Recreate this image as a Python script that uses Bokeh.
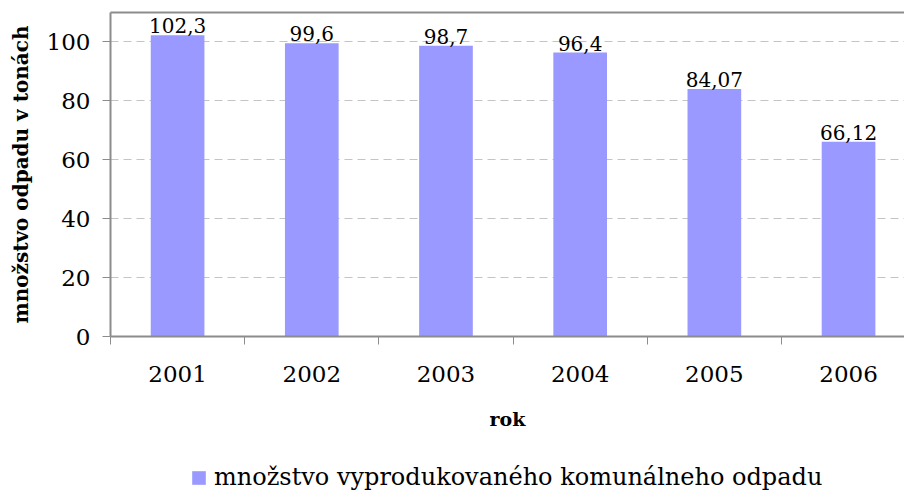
from bokeh.plotting import figure
from bokeh.layouts import column
from bokeh.models import (ColumnDataSource, Range1d, FixedTicker, LinearAxis,
                          LabelSet, Legend, LegendItem)
from bokeh.core.properties import value
from bokeh.embed import file_html
from bokeh.resources import INLINE

years = ["2001", "2002", "2003", "2004", "2005", "2006"]
values = [102.3, 99.6, 98.7, 96.4, 84.07, 66.12]
value_labels = ["102,3", "99,6", "98,7", "96,4", "84,07", "66,12"]
y_ticks = [0, 20, 40, 60, 80, 100]
series_name = "množstvo vyprodukovaného komunálneho odpadu"

centers = [i + 0.5 for i in range(len(years))]
bounds = [i for i in range(len(years) + 1)]

src = ColumnDataSource(dict(x=centers, top=values, lab=value_labels))

FONT = "DejaVu Serif"
GRAY = "#8c8c8c"
BAR = "#9999ff"

p = figure(width=904, height=450, output_backend="svg", toolbar_location=None,
           x_range=Range1d(0, 5.917), y_range=Range1d(0, 110),
           min_border_left=110, min_border_right=0, min_border_top=12,
           min_border_bottom=114)
p.outline_line_color = None
p.background_fill_color = "white"
p.border_fill_color = "white"

r = p.vbar(x="x", top="top", width=0.4, source=src, fill_color=BAR,
           line_color=None)

# x axis
xa = p.xaxis[0]
xa.ticker = FixedTicker(ticks=centers, minor_ticks=bounds)
xa.major_label_overrides = {c: y for c, y in zip(centers, years)}
xa.major_tick_line_color = None
xa.major_tick_out = 0
xa.major_tick_in = 0
xa.minor_tick_line_color = GRAY
xa.minor_tick_out = 8
xa.minor_tick_in = 0
xa.minor_tick_line_width = 1
xa.axis_line_color = GRAY
xa.axis_line_width = 2
xa.major_label_text_font = FONT
xa.major_label_text_font_size = "23px"
xa.major_label_text_color = "black"
xa.major_label_standoff = 21
xa.axis_label = "rok"
xa.axis_label_text_font = FONT
xa.axis_label_text_font_style = "bold"
xa.axis_label_text_font_size = "19px"
xa.axis_label_text_color = "black"
xa.axis_label_standoff = 23

# y axis
ya = p.yaxis[0]
ya.ticker = FixedTicker(ticks=y_ticks)
ya.minor_tick_line_color = None
ya.major_tick_line_color = GRAY
ya.major_tick_out = 8
ya.major_tick_in = 0
ya.axis_line_color = GRAY
ya.axis_line_width = 2
ya.major_label_text_font = FONT
ya.major_label_text_font_size = "23px"
ya.major_label_text_color = "black"
ya.major_label_standoff = 12
ya.axis_label = "množstvo odpadu v tonách"
ya.axis_label_text_font = FONT
ya.axis_label_text_font_style = "bold"
ya.axis_label_text_font_size = "20px"
ya.axis_label_text_color = "black"
ya.axis_label_standoff = 11

# top border via an empty axis
top_axis = LinearAxis(ticker=FixedTicker(ticks=[]), axis_line_color=GRAY,
                      axis_line_width=2, major_tick_line_color=None,
                      minor_tick_line_color=None, major_label_standoff=0,
                      major_tick_out=0, major_tick_in=0)
p.add_layout(top_axis, "above")

p.xgrid.grid_line_color = None
p.ygrid.ticker = FixedTicker(ticks=y_ticks)
p.ygrid.grid_line_color = "#c4c4c4"
p.ygrid.grid_line_dash = "8 5"
p.ygrid.grid_line_width = 1

labels = LabelSet(x="x", y="top", text="lab", source=src, text_align="center",
                  text_baseline="alphabetic", y_offset=2,
                  text_font=value(FONT), text_font_size=value("20px"),
                  text_color=value("black"))
p.add_layout(labels)

# legend strip below the chart
p2 = figure(width=904, height=41, output_backend="svg", toolbar_location=None,
            x_range=Range1d(0, 1), y_range=Range1d(0, 1),
            x_axis_type=None, y_axis_type=None,
            min_border_left=0, min_border_right=0, min_border_top=0,
            min_border_bottom=0)
p2.outline_line_color = None
p2.xgrid.visible = False
p2.ygrid.visible = False
r2 = p2.vbar(x="x", top="top", width=0.4, source=src, fill_color=BAR,
             line_color=None, visible=False)

legend = Legend(items=[LegendItem(label=series_name, renderers=[r2])],
                location=(80, 0), padding=0, margin=0,
                border_line_color=None, background_fill_alpha=0,
                inactive_fill_alpha=0,
                glyph_width=17, glyph_height=17, label_standoff=7,
                label_text_font=FONT, label_text_font_size="24px",
                label_text_color="black",
                label_text_baseline="middle", label_height=17)
p2.add_layout(legend, "center")

layout = column(p, p2, spacing=0)
open("out.html", "w").write(file_html(layout, INLINE))
